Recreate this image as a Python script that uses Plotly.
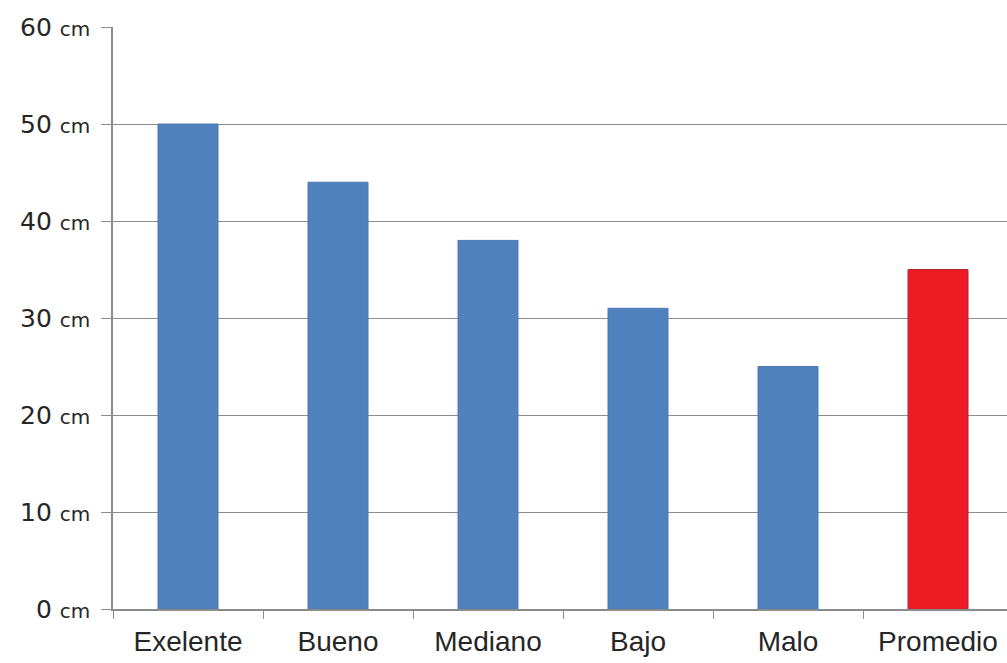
import plotly.graph_objects as go

categories = ["Exelente", "Bueno", "Mediano", "Bajo", "Malo", "Promedio"]
heights_cm = [50, 44, 38, 31, 25, 35]
bar_colors = ["#4F81BD", "#4F81BD", "#4F81BD", "#4F81BD", "#4F81BD", "#EC1C24"]
edge_colors = ["#4A7AB3", "#4A7AB3", "#4A7AB3", "#4A7AB3", "#4A7AB3", "#B8262C"]
y_ticks = [0, 10, 20, 30, 40, 50, 60]
y_tick_labels = [f"{v} <span style='font-size:20px'>cm</span>" for v in y_ticks]

fig = go.Figure(
    go.Bar(
        x=categories,
        y=heights_cm,
        width=0.4,
        marker=dict(color=bar_colors, line=dict(color=edge_colors, width=1)),
    )
)

fig.update_layout(
    width=1007,
    height=663,
    margin=dict(l=113, r=0, t=27, b=54),
    paper_bgcolor="white",
    plot_bgcolor="white",
    showlegend=False,
    font=dict(family="Liberation Sans, Arial, sans-serif", color="#222222"),
)

fig.update_xaxes(
    type="category",
    range=[-0.5, 5.46],
    automargin=False,
    showline=True,
    linecolor="#8c8c8c",
    linewidth=1.5,
    ticks="outside",
    tickson="boundaries",
    ticklen=8,
    tickcolor="#8c8c8c",
    ticklabelstandoff=7,
    tickfont=dict(size=28, family="Liberation Sans, Arial, sans-serif", color="#262626"),
    showgrid=False,
)

fig.update_yaxes(
    range=[0, 60],
    tickvals=y_ticks,
    ticktext=y_tick_labels,
    automargin=False,
    showline=True,
    linecolor="#8c8c8c",
    linewidth=1.5,
    ticks="outside",
    ticklen=10,
    tickcolor="#8c8c8c",
    ticklabelstandoff=6,
    showgrid=True,
    gridcolor="#8c8c8c",
    gridwidth=1.2,
    zeroline=False,
    tickfont=dict(size=25, family="DejaVu Sans, Verdana, sans-serif", color="#262626"),
)

fig.write_html("out.html")
